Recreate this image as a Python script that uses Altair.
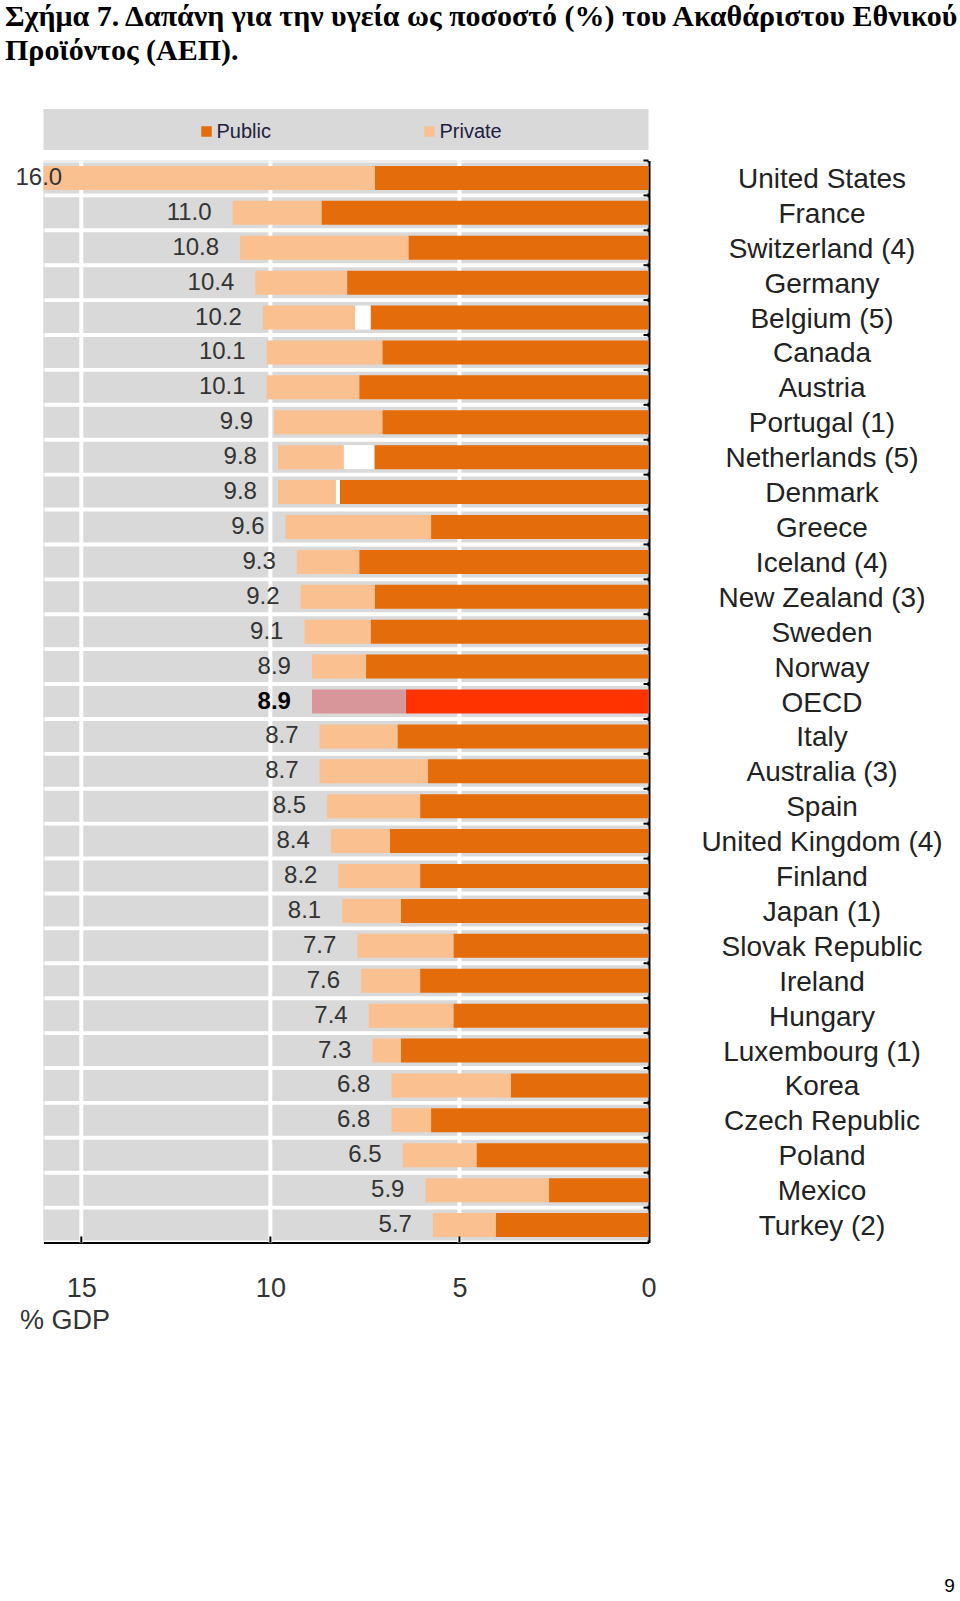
import altair as alt
import pandas as pd

countries = ["United States", "France", "Switzerland (4)", "Germany", "Belgium (5)", "Canada",
             "Austria", "Portugal (1)", "Netherlands (5)", "Denmark", "Greece", "Iceland (4)",
             "New Zealand (3)", "Sweden", "Norway", "OECD", "Italy", "Australia (3)", "Spain",
             "United Kingdom (4)", "Finland", "Japan (1)", "Slovak Republic", "Ireland", "Hungary",
             "Luxembourg (1)", "Korea", "Czech Republic", "Poland", "Mexico", "Turkey (2)"]
totals = [16.0, 11.0, 10.8, 10.4, 10.2, 10.1, 10.1, 9.9, 9.8, 9.8, 9.6, 9.3, 9.2, 9.1, 8.9, 8.9,
          8.7, 8.7, 8.5, 8.4, 8.2, 8.1, 7.7, 7.6, 7.4, 7.3, 6.8, 6.8, 6.5, 5.9, 5.7]
public = [7.24, 8.65, 6.35, 7.97, 7.35, 7.04, 7.65, 7.04, 7.25, 8.16, 5.75, 7.65, 7.24, 7.35, 7.47,
          6.42, 6.64, 5.84, 6.04, 6.84, 6.04, 6.55, 5.16, 6.04, 5.16, 6.55, 3.64, 5.75, 4.55, 2.63, 4.04]
unallocated = [0, 0, 0, 0, 0.41, 0, 0, 0, 0.81, 0.11, 0, 0, 0, 0, 0, 0, 0, 0, 0, 0, 0, 0, 0, 0, 0,
               0, 0, 0, 0, 0, 0]
x_ticks = [0, 5, 10, 15]
grid_vals = [5, 10, 15]
legend_items = ["Public", "Private"]

title_lines = ["Σχήμα 7. Δαπάνη για την υγεία ως ποσοστό (%) του Ακαθάριστου Εθνικού",
               "Προϊόντος (ΑΕΠ)."]

# ---- build tables ----
seg_rows = []
for c, t, p, g in zip(countries, totals, public, unallocated):
    oecd = c == "OECD"
    seg_rows.append({"country": c, "seg": "OECD public" if oecd else "Public", "start": 0.0, "end": p})
    if g > 0:
        seg_rows.append({"country": c, "seg": "Gap", "start": p, "end": p + g})
    seg_rows.append({"country": c, "seg": "OECD private" if oecd else "Private", "start": p + g, "end": t})
seg_df = pd.DataFrame(seg_rows)

row_df = pd.DataFrame({"country": countries, "total": totals,
                       "label": [f"{t:.1f}" for t in totals]})
grid_df = pd.DataFrame({"v": grid_vals})

W, H = 605, 1082
FONT = "Liberation Sans"

xs = alt.Scale(domain=[0, 16], reverse=True, nice=False, zero=True)
ys = alt.Scale(domain=countries, paddingInner=0, paddingOuter=0)

xaxis = alt.Axis(values=x_ticks, orient="bottom", grid=False, ticks=False, domainColor="black",
                 domainWidth=2, labelFontSize=27, labelFont=FONT, labelColor="#333333",
                 labelPadding=33, labelFlush=False, title="% GDP", titleX=-24, titleY=78,
                 titleAlign="left", titleBaseline="middle", titleFontSize=27, titleFont=FONT,
                 titleFontWeight="normal", titleColor="#333333", titleAngle=0)
yaxis = alt.Axis(orient="right", grid=False, ticks=False, domainColor="black", domainWidth=3,
                 labelAlign="center", labelBaseline="middle", labelPadding=173, labelFontSize=28,
                 labelFont=FONT, labelColor="#222222", labelLimit=400, title=None, labelOffset=2)

color_scale = alt.Scale(domain=["Public", "Private", "OECD public", "OECD private", "Gap"],
                        range=["#E46C0A", "#FAC090", "#FF3300", "#D9969A", "#FFFFFF"])

legend_band = alt.Chart(pd.DataFrame({"a": [1]})).mark_rect(color="#D9D9D9").encode(
    x=alt.X(datum=16, type="quantitative", scale=xs, axis=xaxis),
    x2=alt.X2(datum=0),
    y=alt.value(-51.5), y2=alt.value(-10.5))

grey = alt.Chart(row_df).mark_bar(color="#D9D9D9", size=31).encode(
    y=alt.Y("country:N", sort=countries, scale=ys, axis=yaxis),
    x=alt.X(datum=16, type="quantitative", scale=xs, axis=xaxis),
    x2=alt.X2(datum=0))

grid = alt.Chart(grid_df).mark_rule(color="white", strokeWidth=4).encode(
    x=alt.X("v:Q", scale=xs, axis=xaxis))

bars = alt.Chart(seg_df).mark_bar(size=24).encode(
    y=alt.Y("country:N", sort=countries, scale=ys, axis=yaxis),
    x=alt.X("start:Q", scale=xs, axis=xaxis),
    x2="end:Q",
    color=alt.Color("seg:N", scale=color_scale,
                    legend=alt.Legend(values=legend_items, title=None, orient="none",
                                      legendX=153, legendY=-39, direction="horizontal",
                                      columns=2, columnPadding=148, symbolType="square",
                                      symbolSize=110, symbolStrokeWidth=0, labelFontSize=20,
                                      labelFont=FONT, labelColor="#1F2040", padding=0,
                                      labelOffset=0)))

xticks_in = alt.Chart(grid_df).mark_rule(color="black", strokeWidth=2).encode(
    x=alt.X("v:Q", scale=xs, axis=xaxis), y=alt.value(H - 6), y2=alt.value(H))

yticks_in = alt.Chart(row_df).mark_rule(color="black", strokeWidth=2).encode(
    y=alt.Y("country:N", sort=countries, scale=ys, axis=yaxis, bandPosition=0),
    x=alt.value(W - 5), x2=alt.value(W))

labels = alt.Chart(row_df).transform_filter(alt.datum.country != "OECD").transform_calculate(
    lx="min(datum.total, 14.95)"
).mark_text(align="right", baseline="middle", dx=-21, fontSize=24, font=FONT,
            color="#333333").encode(
    y=alt.Y("country:N", sort=countries, scale=ys, axis=yaxis),
    x=alt.X("lx:Q", scale=xs, axis=xaxis),
    text="label:N")

labels_oecd = alt.Chart(row_df).transform_filter(alt.datum.country == "OECD").mark_text(
    align="right", baseline="middle", dx=-21, fontSize=24, font=FONT, fontWeight="bold",
    color="#000000").encode(
    y=alt.Y("country:N", sort=countries, scale=ys, axis=yaxis),
    x=alt.X("total:Q", scale=xs, axis=xaxis),
    text="label:N")

page_no = alt.Chart(pd.DataFrame({"t": ["9"]})).mark_text(
    fontSize=19, font=FONT, color="black", align="center", baseline="middle").encode(
    text="t:N", x=alt.value(906), y=alt.value(1425))

chart = alt.layer(legend_band, grey, grid, bars, xticks_in, yticks_in, labels, labels_oecd,
                  page_no).properties(
    width=W, height=H,
    title=alt.TitleParams(text=title_lines, anchor="start", frame="group", dx=-38.5, dy=-33,
                          font="Liberation Serif", fontSize=30, fontWeight="bold",
                          lineHeight=34, color="black", offset=10),
    autosize=alt.AutoSizeParams(type="none"),
    padding={"left": 43.5, "top": 160.5, "right": 311.5, "bottom": 358.5},
).configure_view(stroke=None).configure(font=FONT, background="white")

chart.save("out.html", embed_options={"renderer": "svg", "actions": False})
